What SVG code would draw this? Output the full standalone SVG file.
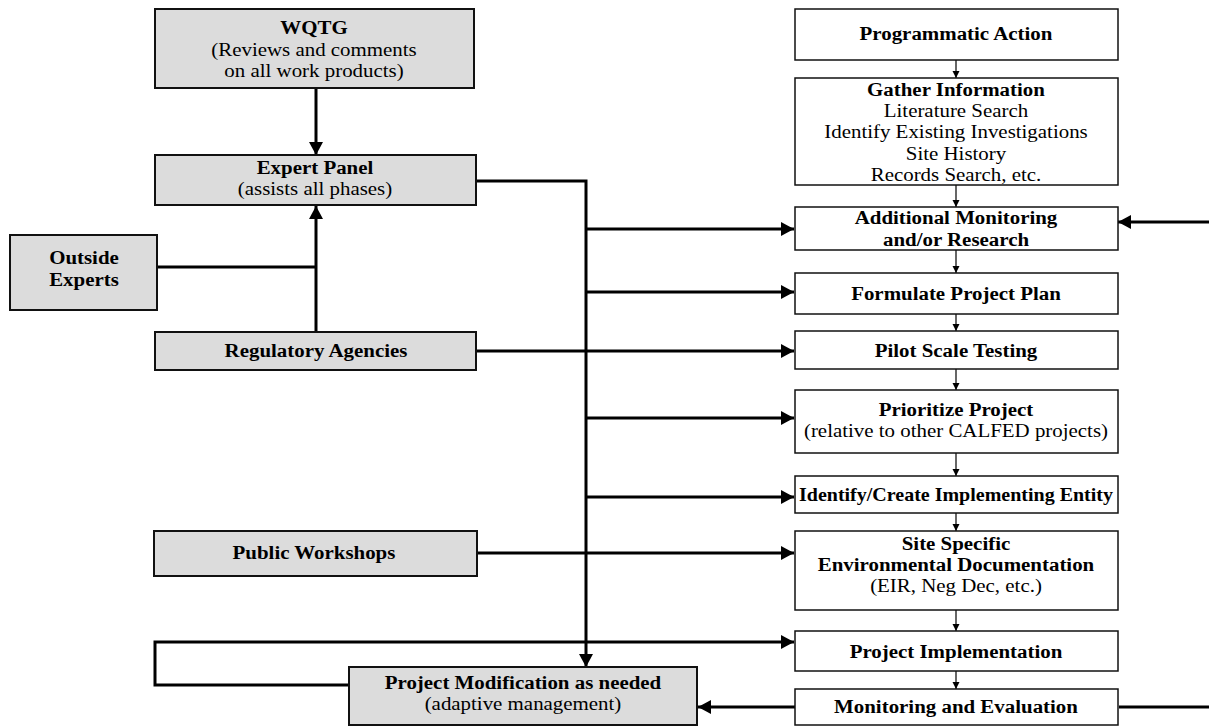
<svg xmlns="http://www.w3.org/2000/svg" width="1209" height="727" viewBox="0 0 1209 727">
<defs>
<style>
.g{fill:#dcdcdc;stroke:#111;stroke-width:2}
.w{fill:#fff;stroke:#111;stroke-width:1.5}
text{font-family:"Liberation Serif","Times New Roman",serif;font-size:19px;fill:#000;text-anchor:middle}
.b{font-weight:bold}
.c{fill:none;stroke:#000;stroke-width:3}
.s{fill:none;stroke:#000;stroke-width:1.2}
</style>
<marker id="big" markerUnits="userSpaceOnUse" markerWidth="14" markerHeight="14" refX="13" refY="7" orient="auto">
<path d="M0,0 L13,7 L0,14 z" fill="#000"/>
</marker>
<marker id="sm" markerUnits="userSpaceOnUse" markerWidth="8" markerHeight="8" refX="7" refY="3.5" orient="auto">
<path d="M0,0 L7,3.5 L0,7 z" fill="#000"/>
</marker>
</defs>
<rect width="1209" height="727" fill="#fff"/>

<g id="connectors">
<path class="c" d="M316,88 V155" marker-end="url(#big)"/>
<path class="c" d="M316,332 V206" marker-end="url(#big)"/>
<path class="c" d="M157,267 H316"/>
<path class="c" d="M476,181 H586 V667" marker-end="url(#big)"/>
<path class="c" d="M586,229 H794" marker-end="url(#big)"/>
<path class="c" d="M586,292 H794" marker-end="url(#big)"/>
<path class="c" d="M476,351 H794" marker-end="url(#big)"/>
<path class="c" d="M586,418 H794" marker-end="url(#big)"/>
<path class="c" d="M586,497 H794" marker-end="url(#big)"/>
<path class="c" d="M477,553 H794" marker-end="url(#big)"/>
<path class="c" d="M349,685 H155 V642 H794" marker-end="url(#big)"/>
<path class="c" d="M795,707 H698" marker-end="url(#big)"/>
<path class="c" d="M1119,707 H1209"/>
<path class="c" d="M1209,222 H1118" marker-end="url(#big)"/>
<path class="s" d="M956,60 V78" marker-end="url(#sm)"/>
<path class="s" d="M956,185 V207" marker-end="url(#sm)"/>
<path class="s" d="M956,250 V273" marker-end="url(#sm)"/>
<path class="s" d="M956,314 V331" marker-end="url(#sm)"/>
<path class="s" d="M956,369 V390" marker-end="url(#sm)"/>
<path class="s" d="M956,453 V476" marker-end="url(#sm)"/>
<path class="s" d="M956,513 V531" marker-end="url(#sm)"/>
<path class="s" d="M956,610 V631" marker-end="url(#sm)"/>
<path class="s" d="M956,671 V689" marker-end="url(#sm)"/>
</g>

<g id="wqtg">
<rect class="g" x="155" y="9" width="319" height="79"/>
<g transform="matrix(1.1,0,0,1,-31.4,0)">
<text class="b" x="314" y="34.5">WQTG</text>
<text x="314" y="55.7">(Reviews and comments</text>
<text x="314" y="76.9">on all work products)</text>
</g>
</g>
<g id="expert-panel">
<rect class="g" x="155" y="155" width="321" height="50"/>
<g transform="matrix(1.1,0,0,1,-31.5,0)">
<text class="b" x="315" y="174">Expert Panel</text>
<text x="315" y="195.2">(assists all phases)</text>
</g>
</g>
<g id="outside-experts">
<rect class="g" x="10" y="235" width="147" height="75"/>
<g transform="matrix(1.1,0,0,1,-8.4,0)">
<text class="b" x="84" y="264">Outside</text>
<text class="b" x="84" y="286">Experts</text>
</g>
</g>
<g id="regulatory-agencies">
<rect class="g" x="155" y="332" width="321" height="38"/>
<text class="b" x="316" y="357" transform="matrix(1.1,0,0,1,-31.6,0)">Regulatory Agencies</text>
</g>
<g id="public-workshops">
<rect class="g" x="154" y="531" width="323" height="45"/>
<text class="b" x="314" y="559" transform="matrix(1.1,0,0,1,-31.4,0)">Public Workshops</text>
</g>
<g id="project-modification">
<rect class="g" x="349" y="667" width="348" height="58"/>
<g transform="matrix(1.1,0,0,1,-52.3,0)">
<text class="b" x="523" y="689">Project Modification as needed</text>
<text x="523" y="710.2">(adaptive management)</text>
</g>
</g>

<g id="programmatic-action">
<rect class="w" x="795" y="9" width="323" height="51"/>
<text class="b" x="956" y="40" transform="matrix(1.1,0,0,1,-95.6,0)">Programmatic Action</text>
</g>
<g id="gather-information">
<rect class="w" x="795" y="78" width="323" height="107"/>
<g transform="matrix(1.1,0,0,1,-95.6,0)">
<text class="b" x="956" y="96">Gather Information</text>
<text x="956" y="117.2">Literature Search</text>
<text x="956" y="138.4">Identify Existing Investigations</text>
<text x="956" y="159.6">Site History</text>
<text x="956" y="180.8">Records Search, etc.</text>
</g>
</g>
<g id="additional-monitoring">
<rect class="w" x="795" y="207" width="323" height="43"/>
<g transform="matrix(1.1,0,0,1,-95.6,0)">
<text class="b" x="956" y="224.5">Additional Monitoring</text>
<text class="b" x="956" y="245.7">and/or Research</text>
</g>
</g>
<g id="formulate-plan">
<rect class="w" x="795" y="273" width="323" height="41"/>
<text class="b" x="956" y="300" transform="matrix(1.1,0,0,1,-95.6,0)">Formulate Project Plan</text>
</g>
<g id="pilot-testing">
<rect class="w" x="795" y="331" width="323" height="38"/>
<text class="b" x="956" y="357" transform="matrix(1.1,0,0,1,-95.6,0)">Pilot Scale Testing</text>
</g>
<g id="prioritize-project">
<rect class="w" x="795" y="390" width="323" height="63"/>
<g transform="matrix(1.1,0,0,1,-95.6,0)">
<text class="b" x="956" y="416">Prioritize Project</text>
<text x="956" y="437.2">(relative to other CALFED projects)</text>
</g>
</g>
<g id="implementing-entity">
<rect class="w" x="795" y="476" width="323" height="37"/>
<text class="b" x="956" y="501" textLength="314" lengthAdjust="spacingAndGlyphs">Identify/Create Implementing Entity</text>
</g>
<g id="site-specific">
<rect class="w" x="795" y="531" width="323" height="79"/>
<g transform="matrix(1.1,0,0,1,-95.6,0)">
<text class="b" x="956" y="550">Site Specific</text>
<text class="b" x="956" y="571.2">Environmental Documentation</text>
<text x="956" y="592.4">(EIR, Neg Dec, etc.)</text>
</g>
</g>
<g id="project-implementation">
<rect class="w" x="795" y="631" width="323" height="40"/>
<text class="b" x="956" y="658" transform="matrix(1.1,0,0,1,-95.6,0)">Project Implementation</text>
</g>
<g id="monitoring-evaluation">
<rect class="w" x="795" y="689" width="323" height="36"/>
<text class="b" x="956" y="713" transform="matrix(1.1,0,0,1,-95.6,0)">Monitoring and Evaluation</text>
</g>
</svg>
